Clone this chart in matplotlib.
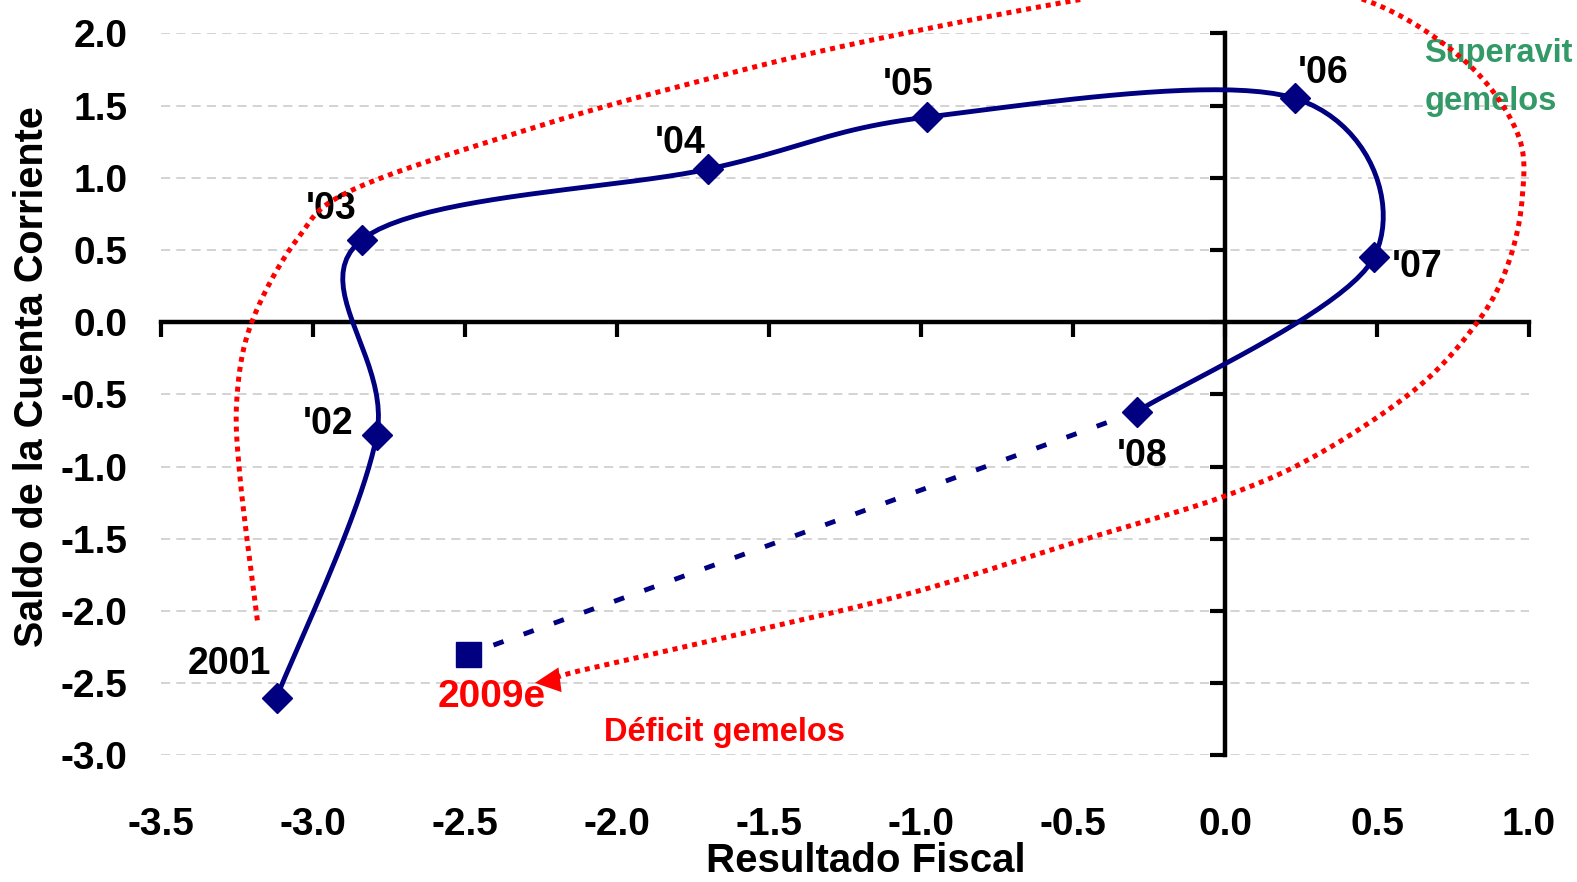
import numpy as np
import matplotlib
matplotlib.use("Agg")
import matplotlib.pyplot as plt
from matplotlib.ticker import FormatStrFormatter

plt.rcParams['font.family'] = ['Liberation Sans', 'DejaVu Sans']
plt.rcParams['font.weight'] = 'bold'

# resultado fiscal (x) vs saldo de cuenta corriente (y), % del PIB
years = ['2001', "'02", "'03", "'04", "'05", "'06", "'07", "'08"]
fiscal = [-3.12, -2.79, -2.84, -1.70, -0.98, 0.23, 0.49, -0.29]
cuenta = [-2.60, -0.78, 0.57, 1.06, 1.42, 1.55, 0.45, -0.62]

# estimacion 2009
est_label = '2009e'
fiscal_est = -2.49
cuenta_est = -2.30

xticks = np.arange(-3.5, 1.01, 0.5)
yticks = np.arange(-3.0, 2.01, 0.5)

# label offsets in points (dx, dy) from each marker
label_off = [(-34, 24), (-35, 8), (-22, 22), (-20, 19), (-14, 23),
             (20, 18), (31, -7), (4, -32)]

# freehand loop marking the move from superavit to deficit
loop_x = [-3.183, -3.240, -3.250, -3.201, -3.053, -2.868, -2.263, -1.747,
          -1.230, -0.474, 0.016, 0.454, 0.783, 0.961, 0.977, 0.928, 0.829,
          0.632, 0.303, -0.007, -0.467, -1.020, -1.566, -2.112, -2.207]
loop_y = [-2.065, -1.078, -0.516, 0.003, 0.572, 0.918, 1.354, 1.659,
          1.923, 2.235, 2.374, 2.235, 1.819, 1.313, 0.849, 0.385, -0.003,
          -0.454, -0.918, -1.209, -1.507, -1.868, -2.145, -2.408, -2.471]
arrow_tip = (-2.27, -2.498)


def smooth(xs, ys, n=24):
    # bezier through the points, control points from neighbours (1/6 rule)
    p = np.column_stack([xs, ys]).astype(float)
    out = []
    for i in range(len(p) - 1):
        p0 = p[i - 1] if i > 0 else p[i]
        p1, p2 = p[i], p[i + 1]
        p3 = p[i + 2] if i + 2 < len(p) else p[i + 1]
        c1 = p1 + (p2 - p0) / 6.0
        c2 = p2 - (p3 - p1) / 6.0
        t = np.linspace(0, 1, n)[:, None]
        seg = ((1 - t) ** 3) * p1 + 3 * ((1 - t) ** 2) * t * c1 \
            + 3 * (1 - t) * t ** 2 * c2 + t ** 3 * p2
        out.append(seg if i == 0 else seg[1:])
    out = np.vstack(out)
    return out[:, 0], out[:, 1]


navy = '#000080'
red = '#FF0000'
green = '#339966'

fig = plt.figure(figsize=(15.77, 8.82), dpi=100)
ax = fig.add_axes([0.1021, 0.1435, 0.8675, 0.8187])
ax.set_xlim(-3.5, 1.0)
ax.set_ylim(-3.0, 2.0)

# axes crossing at zero, ticks only
for s in ['top', 'right']:
    ax.spines[s].set_visible(False)
ax.spines['left'].set_position(('data', 0))
ax.spines['bottom'].set_position(('data', 0))
ax.spines['left'].set_linewidth(3.2)
ax.spines['bottom'].set_linewidth(3.2)
ax.set_xticks(xticks)
ax.set_yticks(yticks)
ax.tick_params(direction='out', length=11, width=3, color='black',
               labelbottom=False, labelleft=False)
ax.yaxis.grid(True, color='#C8C8C8', linestyle=(0, (6, 4)), linewidth=1.1)
ax.set_axisbelow(True)

# second layer only for the tick labels at the frame edges
lab = fig.add_axes(ax.get_position(), frameon=False, sharex=ax, sharey=ax)
lab.patch.set_visible(False)
lab.tick_params(length=0, labelsize=28)
lab.tick_params(axis='x', pad=37)
lab.tick_params(axis='y', pad=24)
lab.xaxis.set_major_formatter(FormatStrFormatter('%.1f'))
lab.yaxis.set_major_formatter(FormatStrFormatter('%.1f'))

fig.text(866 / 1577, 1 - 872 / 882, 'Resultado Fiscal', fontsize=29,
         fontweight='bold', ha='center', va='baseline')
fig.text(32 / 1577, 1 - 377 / 882, 'Saldo de la Cuenta Corriente',
         fontsize=28.5, fontweight='bold', rotation=90,
         ha='center', va='center')

# trajectory
sx, sy = smooth(fiscal, cuenta)
ax.plot(sx, sy, color=navy, lw=3.5, zorder=3, solid_joinstyle='round')
ax.plot(fiscal, cuenta, 'D', color=navy, ms=15, zorder=4)
ax.plot([fiscal[-1], fiscal_est], [cuenta[-1], cuenta_est], color=navy,
        lw=3.5, dashes=(2.2, 4.4), zorder=3)
ax.plot(fiscal_est, cuenta_est, 's', color=navy, ms=18, zorder=4)

for yr, x, y, off in zip(years, fiscal, cuenta, label_off):
    ax.annotate(yr, (x, y), xytext=off, textcoords='offset points',
                ha='center', va='center', fontsize=27, color='black', zorder=5)
ax.annotate(est_label, (fiscal_est, cuenta_est), xytext=(17, -31),
            textcoords='offset points', ha='center', va='center',
            fontsize=28, color=red, zorder=5)

# red dotted loop with arrow
lx, ly = smooth(loop_x, loop_y, n=30)
ax.plot(lx, ly, color=red, lw=3.6, dashes=(1.0, 1.0), zorder=6, clip_on=False)
ax.annotate('', xy=arrow_tip, xytext=(loop_x[-1] + 0.02, loop_y[-1] - 0.005),
            arrowprops=dict(arrowstyle='-|>,head_length=0.65,head_width=0.32',
                            color=red, lw=0, mutation_scale=28,
                            shrinkA=0, shrinkB=0), zorder=6)

ax.text(-1.645, -2.84, 'Déficit gemelos', color=red, fontsize=23.5,
        ha='center', va='center', zorder=5)
ax.text(0.90, 1.86, 'Superavit', color=green, fontsize=23.5,
        ha='center', va='center', zorder=5)
ax.text(0.875, 1.53, 'gemelos', color=green, fontsize=23.5,
        ha='center', va='center', zorder=5)

fig.savefig('out.png', dpi=100)
